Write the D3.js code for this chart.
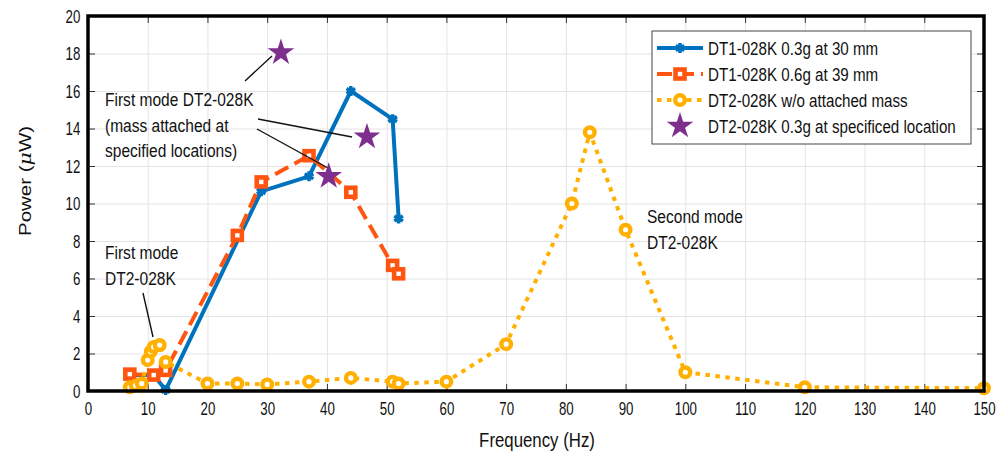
<!DOCTYPE html>
<html>
<head>
<meta charset="utf-8">
<script src="https://cdn.jsdelivr.net/npm/d3@7"></script>
<style>
  body { margin: 0; background: #fff; }
  text { font-family: "Liberation Sans", Arial, sans-serif; fill: #111; }
</style>
</head>
<body>
<script>
// values
const blueFreq   = [7, 11, 13, 29, 37, 44, 51, 52];
const bluePower  = [0.85, 0.85, 0.05, 10.65, 11.45, 16.0, 14.5, 9.2];
const orangeFreq  = [7, 11, 13, 25, 29, 37, 44, 51, 52];
const orangePower = [0.9, 0.85, 1.1, 8.3, 11.15, 12.55, 10.6, 6.7, 6.25];
const yellowFreq  = [7, 8, 9, 10, 10.5, 11, 12, 13, 20, 25, 30, 37, 44, 51, 52, 60, 70, 81, 84, 90, 100, 120, 150];
const yellowPower = [0.2, 0.3, 0.4, 1.65, 2.1, 2.35, 2.45, 1.55, 0.4, 0.4, 0.35, 0.5, 0.7, 0.5, 0.4, 0.5, 2.5, 10.0, 13.8, 8.6, 1.0, 0.2, 0.15];
const starFreq  = [32.3, 46.7, 40.3];
const starPower = [18.05, 13.55, 11.45];

const seriesNames = [
  "DT1-028K 0.3g at 30 mm",
  "DT1-028K 0.6g at 39 mm",
  "DT2-028K w/o attached mass",
  "DT2-028K 0.3g at specificed location"
];
const xTickVals = [0, 10, 20, 30, 40, 50, 60, 70, 80, 90, 100, 110, 120, 130, 140, 150];
const yTickVals = [0, 2, 4, 6, 8, 10, 12, 14, 16, 18, 20];

const width = 1002, height = 454;
const pLeft = 88, pRight = 984, pTop = 16, pBottom = 391;

const cBlue = "#0072BD", cOrange = "#FF5510", cYellow = "#FFB000", cPurple = "#7E2F8E";

const svg = d3.select("body").append("svg")
  .attr("width", width).attr("height", height);

const x = d3.scaleLinear([0, 150], [pLeft, pRight]);
const y = d3.scaleLinear([0, 20], [pBottom, pTop]);

// grid
svg.append("g")
  .attr("transform", "translate(0," + pBottom + ")")
  .call(d3.axisBottom(x).tickValues(xTickVals).tickSize(-(pBottom - pTop)).tickFormat(""))
  .call(g => g.select(".domain").remove())
  .call(g => g.selectAll("line").attr("stroke", "#e3e3e3"));
svg.append("g")
  .attr("transform", "translate(" + pLeft + ",0)")
  .call(d3.axisLeft(y).tickValues(yTickVals).tickSize(-(pRight - pLeft)).tickFormat(""))
  .call(g => g.select(".domain").remove())
  .call(g => g.selectAll("line").attr("stroke", "#e3e3e3"));

// axes with inward ticks
const tickStyle = g => {
  g.select(".domain").remove();
  g.selectAll("line").attr("stroke", "#333");
  g.selectAll("text").style("font-size", "19px").attr("fill", "#111")
    .attr("transform", "scale(0.7,1)");
};
svg.append("g")
  .attr("transform", "translate(0," + pBottom + ")")
  .call(d3.axisBottom(x).tickValues(xTickVals).tickSizeInner(-7).tickSizeOuter(0).tickPadding(11))
  .call(tickStyle);
svg.append("g")
  .attr("transform", "translate(" + pLeft + ",0)")
  .call(d3.axisLeft(y).tickValues(yTickVals).tickSizeInner(-7).tickSizeOuter(0).tickPadding(11))
  .call(tickStyle);
svg.append("g")
  .attr("transform", "translate(0," + pTop + ")")
  .call(d3.axisTop(x).tickValues(xTickVals).tickSizeInner(-7).tickSizeOuter(0).tickFormat(""))
  .call(tickStyle);
svg.append("g")
  .attr("transform", "translate(" + pRight + ",0)")
  .call(d3.axisRight(y).tickValues(yTickVals).tickSizeInner(-7).tickSizeOuter(0).tickFormat(""))
  .call(tickStyle);

// helpers
function starPath(R) {
  const r = R * 0.382;
  let p = [];
  for (let i = 0; i < 10; i++) {
    const a = -Math.PI / 2 + i * Math.PI / 5;
    const rr = i % 2 ? r : R;
    p.push([rr * Math.cos(a), rr * Math.sin(a)]);
  }
  return "M" + p.map(d => d.join(",")).join("L") + "Z";
}
const line = d3.line().x(d => x(d[0])).y(d => y(d[1]));
const asterisk = d3.symbol(d3.symbolAsterisk, 70)();

function drawMarker(g, kind, px, py) {
  if (kind === "blue") {
    g.append("path").attr("d", asterisk).attr("transform", `translate(${px},${py})`)
      .attr("fill", "none").attr("stroke", cBlue).attr("stroke-width", 3.5);
  } else if (kind === "orange") {
    g.append("rect").attr("x", px - 4.5).attr("y", py - 4.5).attr("width", 9).attr("height", 9)
      .attr("fill", "#fff").attr("stroke", cOrange).attr("stroke-width", 4.6);
  } else if (kind === "yellow") {
    g.append("circle").attr("cx", px).attr("cy", py).attr("r", 4.8)
      .attr("fill", "#fff").attr("stroke", cYellow).attr("stroke-width", 4.4);
  } else {
    g.append("path").attr("d", starPath(14)).attr("transform", `translate(${px},${py})`)
      .attr("fill", cPurple);
  }
}

// series
const blueData = d3.zip(blueFreq, bluePower);
const orangeData = d3.zip(orangeFreq, orangePower);
const yellowData = d3.zip(yellowFreq, yellowPower);
const starData = d3.zip(starFreq, starPower);

const gBlue = svg.append("g");
gBlue.append("path").attr("d", line(blueData)).attr("fill", "none")
  .attr("stroke", cBlue).attr("stroke-width", 4).attr("stroke-linejoin", "round");
blueData.forEach(d => drawMarker(gBlue, "blue", x(d[0]), y(d[1])));

const gOrange = svg.append("g");
gOrange.append("path").attr("d", line(orangeData)).attr("fill", "none")
  .attr("stroke", cOrange).attr("stroke-width", 4).attr("stroke-dasharray", "15,7");
orangeData.forEach(d => drawMarker(gOrange, "orange", x(d[0]), y(d[1])));

const gYellow = svg.append("g");
gYellow.append("path").attr("d", line(yellowData)).attr("fill", "none")
  .attr("stroke", cYellow).attr("stroke-width", 4).attr("stroke-dasharray", "4.5,5.5");
yellowData.forEach(d => drawMarker(gYellow, "yellow", x(d[0]), y(d[1])));

// annotation leader lines
const ann = svg.append("g").attr("stroke", "#111").attr("stroke-width", 1.4);
ann.append("line").attr("x1", 245).attr("y1", 81).attr("x2", 272).attr("y2", 56);
ann.append("line").attr("x1", 258).attr("y1", 119).attr("x2", 352).attr("y2", 137);
ann.append("line").attr("x1", 257).attr("y1", 129).attr("x2", 328).attr("y2", 168);
ann.append("line").attr("x1", 143).attr("y1", 293).attr("x2", 153).attr("y2", 337);

const gStar = svg.append("g");
starData.forEach(d => drawMarker(gStar, "star", x(d[0]), y(d[1])));

// box
svg.append("rect").attr("x", pLeft).attr("y", pTop)
  .attr("width", pRight - pLeft).attr("height", pBottom - pTop)
  .attr("fill", "none").attr("stroke", "#000").attr("stroke-width", 3.5);

// text helper, squeezed horizontally like the source
function label(txt, px, py, size, sx, anchor) {
  return svg.append("text")
    .attr("transform", `translate(${px},${py}) scale(${sx},1)`)
    .attr("text-anchor", anchor || "start")
    .style("font-size", size + "px")
    .text(txt);
}
label("First mode DT2-028K", 105, 106, 18.5, 0.84);
label("(mass attached at", 105, 132, 18.5, 0.84);
label("specified locations)", 105, 157, 18.5, 0.84);
label("First mode", 105, 259, 18.5, 0.84);
label("DT2-028K", 105, 285, 18.5, 0.84);
label("Second mode", 647, 223, 18.5, 0.84);
label("DT2-028K", 647, 249, 18.5, 0.84);

// axis titles
label("Frequency (Hz)", 537, 447, 20.5, 0.82, "middle");
const yt = svg.append("text")
  .attr("transform", "translate(31,181) rotate(-90) scale(1,0.82)")
  .attr("text-anchor", "middle")
  .style("font-size", "20.5px");
yt.append("tspan").text("Power (");
yt.append("tspan").style("font-style", "italic").style("font-family", "'DejaVu Serif', serif").text("\u03bc");
yt.append("tspan").text("W)");

// legend
const lg = svg.append("g");
lg.append("rect").attr("x", 652).attr("y", 31).attr("width", 319).attr("height", 113)
  .attr("fill", "#fff").attr("stroke", "#444").attr("stroke-width", 1);
const kinds = ["blue", "orange", "yellow", "star"];
const rowY = [48, 74, 100, 126];
kinds.forEach((k, i) => {
  const ry = rowY[i];
  if (k === "blue") {
    lg.append("line").attr("x1", 657).attr("x2", 703).attr("y1", ry).attr("y2", ry)
      .attr("stroke", cBlue).attr("stroke-width", 4);
  } else if (k === "orange") {
    lg.append("line").attr("x1", 657).attr("x2", 703).attr("y1", ry).attr("y2", ry)
      .attr("stroke", cOrange).attr("stroke-width", 4).attr("stroke-dasharray", "15,7");
  } else if (k === "yellow") {
    lg.append("line").attr("x1", 657).attr("x2", 703).attr("y1", ry).attr("y2", ry)
      .attr("stroke", cYellow).attr("stroke-width", 4).attr("stroke-dasharray", "4.5,5.5");
  }
  drawMarker(lg, k, 680, ry);
  lg.append("text")
    .attr("transform", `translate(708,${ry + 6.5}) scale(0.82,1)`)
    .style("font-size", "18.5px")
    .text(seriesNames[i]);
});
</script>
</body>
</html>
